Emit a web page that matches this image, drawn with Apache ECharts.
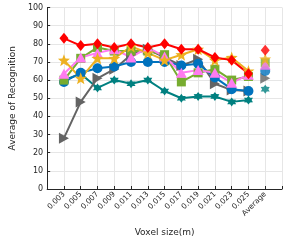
<!DOCTYPE html>
<html><head><meta charset="utf-8">
<script src="https://cdn.jsdelivr.net/npm/echarts@6/dist/echarts.min.js"></script>
<style>html,body{margin:0;padding:0;background:#fff}#c{width:285px;height:242px}</style>
</head><body><div id="c"></div>
<script>
var categories = ['0.003','0.005','0.007','0.009','0.011','0.013','0.015','0.017','0.019','0.021','0.023','0.025','Average'];
var yTicks = [0,10,20,30,40,50,60,70,80,90,100];
var redVals    = [83,79,80,78,80,78,80,77,77,72.5,71,63.5];
var orangeVals = [71,61,72,72,78.5,75,71,74,77,71,72.5,65];
var greenVals  = [60,72,78,76,76,76,74,59,64,66,60,62];
var pinkVals   = [63.5,72.5,75,77,72.5,78,73,64,65.5,64,58.5,63];
var blueVals   = [59,64,66.5,67.5,70,70,70,68,69,61.5,55,54];
var grayVals   = [28,48,61,66,74,77,72.5,68,71.5,58,54.5,54];
var tealVals   = [60,63.5,55.7,60,58,60,54,50,51,51,48,49];
var averages   = {red:76.5, orange:71.7, green:69.5, pink:68.5, blue:65, gray:61, teal:55};

function starPath(n, rIn){
  var p=[];
  for(var i=0;i<2*n;i++){
    var r = i%2===0?10:10*rIn;
    var a = -Math.PI/2 + i*Math.PI/n;
    p.push((i?'L':'M')+(10+r*Math.cos(a)).toFixed(2)+','+(10+r*Math.sin(a)).toFixed(2));
  }
  return 'path://'+p.join(' ')+' Z';
}
var star5 = starPath(5,0.42);
var hexa = starPath(6,0.6);
var triRight = 'path://M0,0 L10,5 L0,10 Z';

var defs = [
  {key:'teal', vals:tealVals, color:'#008080', sym:hexa, size:9},
  {key:'gray', vals:grayVals, color:'#646464', sym:triRight, size:[10,11]},
  {key:'blue', vals:blueVals, color:'#0072BD', sym:'circle', size:10},
  {key:'green', vals:greenVals, color:'#77AC30', sym:'rect', size:9},
  {key:'pink', vals:pinkVals, color:'#FF7BF0', sym:'triangle', size:[11,10]},
  {key:'orange', vals:orangeVals, color:'#EDB120', sym:star5, size:12},
  {key:'red', vals:redVals, color:'#FF0000', sym:'diamond', size:[9,11]}
];
var series=[];
defs.forEach(function(d){
  series.push({type:'line', data:d.vals.map(function(v,i){return [i+1,v];}),
    symbol:d.sym, symbolSize:d.size, showAllSymbol:true,
    lineStyle:{color:d.color,width:2}, itemStyle:{color:d.color}, animation:false});
  series.push({type:'scatter', data:[[13, averages[d.key]]], symbol:d.sym, symbolSize:d.size,
    itemStyle:{color:d.color}, animation:false});
});

var chart = echarts.init(document.getElementById('c'));
chart.setOption({
  animation:false,
  grid:{left:33,right:3,top:7.5,bottom:43},
  xAxis:{type:'value',min:0,max:14,interval:1,
    name:'Voxel size(m)',nameLocation:'middle',nameGap:39,
    nameTextStyle:{fontSize:9,color:'#262626',fontFamily:'DejaVu Sans'},
    axisLine:{lineStyle:{color:'#262626',width:1}},
    axisTick:{inside:true,length:3,lineStyle:{color:'#262626'}},
    splitLine:{show:true,lineStyle:{color:'#e6e6e6',width:1}},
    axisLabel:{rotate:45,fontSize:7.5,color:'#262626',fontFamily:'DejaVu Sans',margin:4,
      formatter:function(v){return (v>=1&&v<=13)?categories[v-1]:'';}}
  },
  yAxis:{type:'value',min:0,max:100,interval:10,
    name:'Average of Recognition',nameLocation:'middle',nameGap:22,
    nameTextStyle:{fontSize:9,color:'#262626',fontFamily:'DejaVu Sans'},
    axisLine:{show:true,lineStyle:{color:'#262626',width:1}},
    axisTick:{show:true,inside:true,length:3,lineStyle:{color:'#262626'}},
    splitLine:{show:true,lineStyle:{color:'#e6e6e6',width:1}},
    axisLabel:{fontSize:8,color:'#262626',fontFamily:'DejaVu Sans',margin:4,
      formatter:function(v){return yTicks.indexOf(v)>=0?String(v):'';}}
  },
  series:series
});
</script></body></html>
